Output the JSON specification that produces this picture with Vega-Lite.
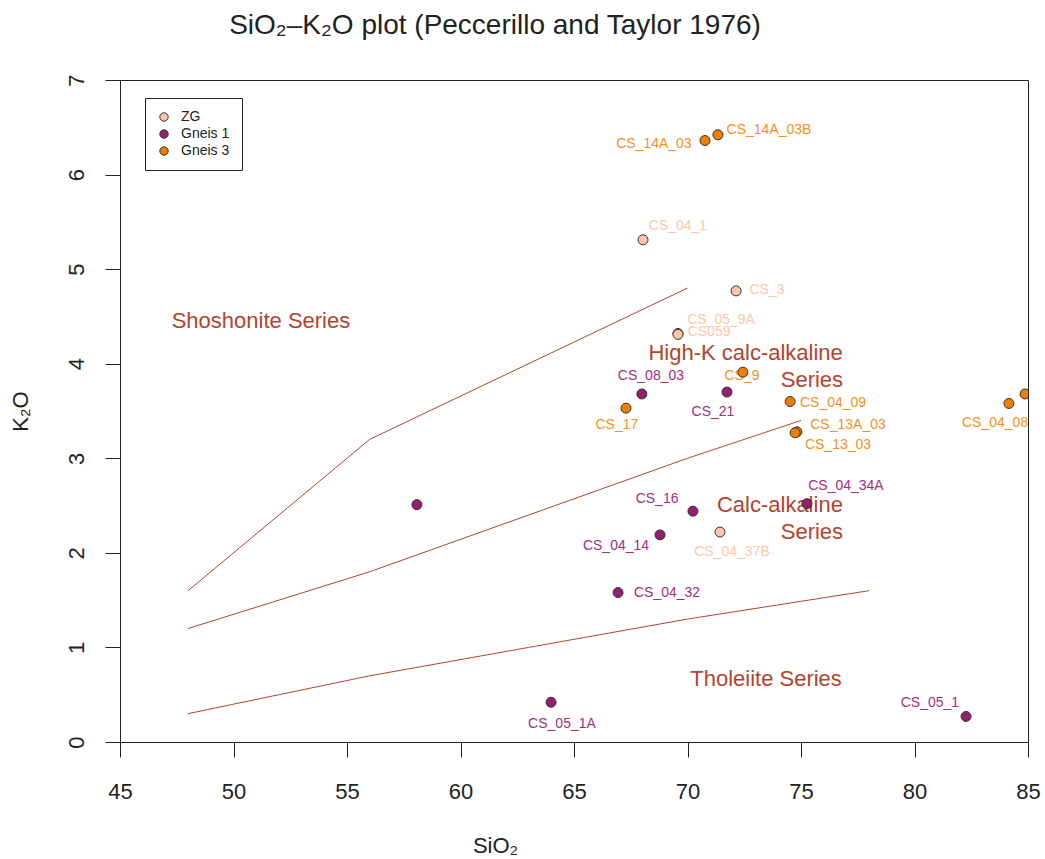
{
  "$schema": "https://vega.github.io/schema/vega-lite/v6.json",
  "autosize": {"type": "none"},
  "width": 908,
  "height": 662,
  "padding": {"left": 120, "top": 80, "right": 17, "bottom": 117},
  "background": "white",
  "config": {
    "font": "Liberation Sans",
    "view": {"stroke": "#222222", "strokeWidth": 1},
    "axis": {"grid": false, "domainColor": "#222222", "tickColor": "#222222", "labelColor": "#222222", "titleColor": "#222222", "labelFont": "Liberation Sans", "titleFont": "Liberation Sans", "titleFontWeight": "normal"}
  },
  "title": {
    "text": "SiO₂–K₂O plot (Peccerillo and Taylor 1976)",
    "font": "Liberation Sans",
    "fontSize": 28,
    "fontWeight": "normal",
    "color": "#222222",
    "anchor": "middle",
    "frame": "group",
    "dx": -79,
    "offset": 34
  },
  "datasets": {
    "pts": [
      {"sample": "CS_04_1", "group": "ZG", "SiO2": 68.04, "K2O": 5.31, "lx": 69.58, "ly": 5.46},
      {"sample": "CS_3", "group": "ZG", "SiO2": 72.14, "K2O": 4.77, "lx": 73.50, "ly": 4.78},
      {"sample": "CS_05_9A", "group": "ZG", "SiO2": 69.58, "K2O": 4.32, "lx": 71.48, "ly": 4.46},
      {"sample": "CS059", "group": "ZG", "SiO2": 69.58, "K2O": 4.31, "lx": 70.95, "ly": 4.34},
      {"sample": "CS_04_37B", "group": "ZG", "SiO2": 71.43, "K2O": 2.22, "lx": 71.96, "ly": 2.01},
      {"sample": "CS_08_03", "group": "Gneis 1", "SiO2": 67.99, "K2O": 3.68, "lx": 68.39, "ly": 3.87},
      {"sample": "CS_21", "group": "Gneis 1", "SiO2": 71.74, "K2O": 3.70, "lx": 71.12, "ly": 3.49},
      {"sample": "", "group": "Gneis 1", "SiO2": 58.08, "K2O": 2.51, "lx": 58.08, "ly": 2.51},
      {"sample": "CS_16", "group": "Gneis 1", "SiO2": 70.24, "K2O": 2.44, "lx": 68.66, "ly": 2.57},
      {"sample": "CS_04_34A", "group": "Gneis 1", "SiO2": 75.26, "K2O": 2.52, "lx": 76.98, "ly": 2.71},
      {"sample": "CS_04_14", "group": "Gneis 1", "SiO2": 68.79, "K2O": 2.19, "lx": 66.85, "ly": 2.07},
      {"sample": "CS_04_32", "group": "Gneis 1", "SiO2": 66.94, "K2O": 1.58, "lx": 69.10, "ly": 1.58},
      {"sample": "CS_05_1A", "group": "Gneis 1", "SiO2": 63.99, "K2O": 0.42, "lx": 64.47, "ly": 0.19},
      {"sample": "CS_05_1", "group": "Gneis 1", "SiO2": 82.27, "K2O": 0.27, "lx": 80.68, "ly": 0.41},
      {"sample": "CS_14A_03", "group": "Gneis 3", "SiO2": 70.77, "K2O": 6.36, "lx": 68.52, "ly": 6.32},
      {"sample": "CS_14A_03B", "group": "Gneis 3", "SiO2": 71.34, "K2O": 6.42, "lx": 73.59, "ly": 6.47},
      {"sample": "CS_9", "group": "Gneis 3", "SiO2": 72.44, "K2O": 3.91, "lx": 72.40, "ly": 3.87},
      {"sample": "CS_17", "group": "Gneis 3", "SiO2": 67.29, "K2O": 3.53, "lx": 66.89, "ly": 3.35},
      {"sample": "CS_04_09", "group": "Gneis 3", "SiO2": 74.52, "K2O": 3.60, "lx": 76.41, "ly": 3.58},
      {"sample": "CS_13A_03", "group": "Gneis 3", "SiO2": 74.82, "K2O": 3.28, "lx": 77.07, "ly": 3.35},
      {"sample": "CS_13_03", "group": "Gneis 3", "SiO2": 74.74, "K2O": 3.27, "lx": 76.63, "ly": 3.14},
      {"sample": "CS_04_08", "group": "Gneis 3", "SiO2": 84.16, "K2O": 3.58, "lx": 83.55, "ly": 3.37},
      {"sample": "", "group": "Gneis 3", "SiO2": 84.87, "K2O": 3.68, "lx": 84.87, "ly": 3.68}
    ],
    "bounds": [
      {"boundary": "Shoshonite", "ord": 1, "SiO2": 48, "K2O": 1.6},
      {"boundary": "Shoshonite", "ord": 2, "SiO2": 56, "K2O": 3.2},
      {"boundary": "Shoshonite", "ord": 3, "SiO2": 70, "K2O": 4.8},
      {"boundary": "HighK", "ord": 1, "SiO2": 48, "K2O": 1.2},
      {"boundary": "HighK", "ord": 2, "SiO2": 52, "K2O": 1.5},
      {"boundary": "HighK", "ord": 3, "SiO2": 56, "K2O": 1.8},
      {"boundary": "HighK", "ord": 4, "SiO2": 63, "K2O": 2.4},
      {"boundary": "HighK", "ord": 5, "SiO2": 70, "K2O": 3.0},
      {"boundary": "HighK", "ord": 6, "SiO2": 75, "K2O": 3.4},
      {"boundary": "CalcAlk", "ord": 1, "SiO2": 48, "K2O": 0.3},
      {"boundary": "CalcAlk", "ord": 2, "SiO2": 52, "K2O": 0.5},
      {"boundary": "CalcAlk", "ord": 3, "SiO2": 56, "K2O": 0.7},
      {"boundary": "CalcAlk", "ord": 4, "SiO2": 63, "K2O": 1.0},
      {"boundary": "CalcAlk", "ord": 5, "SiO2": 70, "K2O": 1.3},
      {"boundary": "CalcAlk", "ord": 6, "SiO2": 78, "K2O": 1.6}
    ],
    "fields": [
      {"name": "Shoshonite Series", "SiO2": 51.21, "K2O": 4.45},
      {"name": "High-K calc-alkaline", "SiO2": 72.56, "K2O": 4.11},
      {"name": "Series", "SiO2": 75.48, "K2O": 3.83},
      {"name": "Calc-alkaline", "SiO2": 74.07, "K2O": 2.51},
      {"name": "Series", "SiO2": 75.48, "K2O": 2.22},
      {"name": "Tholeiite Series", "SiO2": 73.46, "K2O": 0.67}
    ]
  },
  "layer": [
    {
      "data": {"name": "bounds"},
      "mark": {"type": "line", "color": "#B4432E", "strokeWidth": 1, "clip": true},
      "encoding": {
        "x": {"field": "SiO2", "type": "quantitative", "scale": {"domain": [45, 85], "nice": false, "zero": false},
          "axis": {"title": "SiO₂", "titleFontSize": 22, "titleX": 375, "titleY": 103, "titleBaseline": "middle", "titleAlign": "center",
            "values": [45, 50, 55, 60, 65, 70, 75, 80, 85], "format": "d", "tickSize": 15, "labelFontSize": 22, "labelPadding": 24, "labelFlush": false, "labelOverlap": false}},
        "y": {"field": "K2O", "type": "quantitative", "scale": {"domain": [0, 7], "nice": false, "zero": false},
          "axis": {"title": "K₂O", "titleFontSize": 22, "titleX": -100, "titleY": 331, "titleAngle": 270, "titleBaseline": "middle", "titleAlign": "center",
            "values": [0, 1, 2, 3, 4, 5, 6, 7], "format": "d", "tickSize": 15, "labelFontSize": 22, "labelAngle": 270, "labelAlign": "center", "labelBaseline": "alphabetic", "labelPadding": 22, "labelFlush": false, "labelOverlap": false}},
        "detail": {"field": "boundary"},
        "order": {"field": "ord", "type": "quantitative"}
      }
    },
    {
      "data": {"name": "fields"},
      "mark": {"type": "text", "color": "#B4432E", "fontSize": 22, "font": "Liberation Sans", "align": "center", "baseline": "middle"},
      "encoding": {
        "x": {"field": "SiO2", "type": "quantitative"},
        "y": {"field": "K2O", "type": "quantitative"},
        "text": {"field": "name"}
      }
    },
    {
      "data": {"name": "pts"},
      "transform": [{"filter": "datum.sample !== ''"}],
      "mark": {"type": "text", "fontSize": 14, "font": "Liberation Sans", "align": "center", "baseline": "middle"},
      "encoding": {
        "x": {"field": "lx", "type": "quantitative"},
        "y": {"field": "ly", "type": "quantitative"},
        "text": {"field": "sample"},
        "color": {"field": "group", "type": "nominal", "scale": {"domain": ["ZG", "Gneis 1", "Gneis 3"], "range": ["#FFC6AE", "#A32E7C", "#F5901E"]}, "legend": null}
      }
    },
    {
      "data": {"name": "pts"},
      "mark": {"type": "point", "shape": "circle", "filled": true, "size": 100, "stroke": "#333333", "strokeWidth": 1, "opacity": 1, "clip": true},
      "encoding": {
        "x": {"field": "SiO2", "type": "quantitative"},
        "y": {"field": "K2O", "type": "quantitative"},
        "fill": {"field": "group", "type": "nominal", "scale": {"domain": ["ZG", "Gneis 1", "Gneis 3"], "range": ["#FFC4AA", "#931F6E", "#EE7F00"]},
          "legend": {"title": null, "orient": "none", "legendX": 25, "legendY": 18, "strokeColor": "#222222", "fillColor": "white", "padding": 12,
            "labelFontSize": 14, "labelFont": "Liberation Sans", "labelColor": "#222222", "symbolSize": 70, "symbolStrokeColor": "#333333", "symbolStrokeWidth": 1, "rowPadding": 3, "labelOffset": 10}}
      }
    }
  ],
  "resolve": {"scale": {"color": "independent"}}
}
